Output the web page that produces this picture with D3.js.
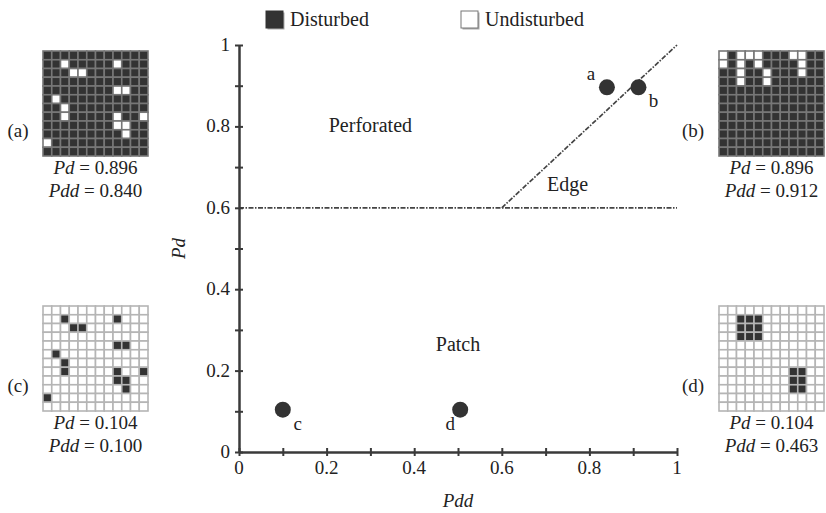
<!DOCTYPE html>
<html>
<head>
<meta charset="utf-8">
<script src="https://cdnjs.cloudflare.com/ajax/libs/d3/7.8.5/d3.min.js"></script>
<style>
  body { margin: 0; background: #fff; }
  svg { font-family: "Liberation Serif", "DejaVu Serif", serif; }
</style>
</head>
<body>
<script>
// chart values
var tickValues = [0, 0.2, 0.4, 0.6, 0.8, 1];
var pointNames = ['a', 'b', 'c', 'd'];
var pointPdd = [0.840, 0.912, 0.100, 0.505];
var pointPd = [0.896, 0.896, 0.104, 0.104];

var regionNames = ['Perforated', 'Edge', 'Patch'];
var regionPdd = [0.30, 0.75, 0.50];
var regionPd = [0.80, 0.655, 0.263];

// boundaries: Pd = 0.6 line and Pd = Pdd diagonal
var boundaryH = [[0, 0.6], [1, 0.6]];
var boundaryD = [[0.6, 0.6], [1, 1]];

// 12 x 12 example maps, cells given as [row, col]
var gridSize = 12;
var spotsAC = [[1,2],[2,3],[2,4],[1,8],[4,8],[4,9],[5,1],[6,2],[7,2],[7,8],[8,8],[8,9],[9,9],[7,11],[10,0]];
var holesB = [[0,0],[1,0],[0,2],[0,3],[1,2],[2,2],[0,4],[1,4],[3,2],[0,8],[0,9],[1,9],[2,9],[2,5],[3,5]];
var spotsD = [[1,2],[1,3],[1,4],[2,2],[2,3],[2,4],[3,2],[3,3],[3,4],[7,8],[7,9],[8,8],[8,9],[9,8],[9,9]];

var panelLabels = ['(a)', '(b)', '(c)', '(d)'];
var panelPd = ['0.896', '0.896', '0.104', '0.104'];
var panelPdd = ['0.840', '0.912', '0.100', '0.463'];

//setup
var W = 826, H = 513;
var margin = {top: 45, left: 239, right: 149, bottom: 61};
var dark = '#333333';

var svg = d3.select('body').append('svg')
    .attr('width', W)
    .attr('height', H);

var x = d3.scaleLinear().domain([0, 1]).range([margin.left, W - margin.right]);
var y = d3.scaleLinear().domain([0, 1]).range([H - margin.bottom, margin.top]);

// boundary lines
var line = d3.line().x(function(d) {return x(d[0])}).y(function(d) {return y(d[1])});
[boundaryH, boundaryD].forEach(function(b) {
    svg.append('path')
        .attr('d', line(b))
        .attr('fill', 'none')
        .attr('stroke', '#444')
        .attr('stroke-width', 1.7)
        .attr('stroke-dasharray', '5,1.5,1.5,1.5');
});

// axes
var xAxis = d3.axisBottom(x).tickValues(d3.range(0, 1.01, 0.1)).tickSize(0).tickFormat('');
var yAxis = d3.axisLeft(y).tickValues(d3.range(0, 1.01, 0.1)).tickSize(0).tickFormat('');

var gx = svg.append('g').attr('transform', 'translate(0,' + y(0) + ')').call(xAxis);
var gy = svg.append('g').attr('transform', 'translate(' + x(0) + ',0)').call(yAxis);
[gx, gy].forEach(function(g) {
    g.select('.domain').attr('stroke', '#3a3a3a').attr('stroke-width', 2.5);
});
gx.selectAll('.tick line').attr('y1', -4).attr('y2', 4).attr('stroke', '#3a3a3a').attr('stroke-width', 2);
gy.selectAll('.tick line').attr('x1', -4).attr('x2', 4).attr('stroke', '#3a3a3a').attr('stroke-width', 2);

// tick labels
var fmt = function(v) {return v === 0 || v === 1 ? String(v) : v.toFixed(1)};
svg.append('g').selectAll('text')
    .data(tickValues).enter().append('text')
    .attr('x', function(d) {return x(d)})
    .attr('y', y(0) + 22)
    .attr('text-anchor', 'middle')
    .attr('font-size', 19)
    .attr('fill', '#222')
    .text(fmt);
svg.append('g').selectAll('text')
    .data(tickValues).enter().append('text')
    .attr('x', x(0) - 9)
    .attr('y', function(d) {return y(d) + 6})
    .attr('text-anchor', 'end')
    .attr('font-size', 19)
    .attr('fill', '#222')
    .text(fmt);

// axis titles
svg.append('text')
    .attr('x', (x(0) + x(1)) / 2)
    .attr('y', H - 6)
    .attr('text-anchor', 'middle')
    .attr('font-size', 19)
    .attr('font-style', 'italic')
    .attr('fill', '#222')
    .text('Pdd');
svg.append('text')
    .attr('transform', 'translate(' + (x(0) - 54) + ',' + y(0.5) + ') rotate(-90)')
    .attr('text-anchor', 'middle')
    .attr('font-size', 19)
    .attr('font-style', 'italic')
    .attr('fill', '#222')
    .text('Pd');

// region labels
svg.append('g').selectAll('text')
    .data(regionNames).enter().append('text')
    .attr('x', function(d, i) {return x(regionPdd[i])})
    .attr('y', function(d, i) {return y(regionPd[i]) + 6})
    .attr('text-anchor', 'middle')
    .attr('font-size', 20)
    .attr('fill', '#222')
    .text(function(d) {return d});

// points
var pts = pointNames.map(function(n, i) {return {name: n, pdd: pointPdd[i], pd: pointPd[i]}});
var labelDx = {a: -16, b: 15, c: 15, d: -10};
var labelDy = {a: -7, b: 20, c: 20, d: 20};
svg.append('g').selectAll('circle')
    .data(pts).enter().append('circle')
    .attr('cx', function(d) {return x(d.pdd)})
    .attr('cy', function(d) {return y(d.pd)})
    .attr('r', 8)
    .attr('fill', dark);
svg.append('g').selectAll('text')
    .data(pts).enter().append('text')
    .attr('x', function(d) {return x(d.pdd) + labelDx[d.name]})
    .attr('y', function(d) {return y(d.pd) + labelDy[d.name]})
    .attr('text-anchor', 'middle')
    .attr('font-size', 19)
    .attr('fill', '#222')
    .text(function(d) {return d.name});

// legend
var legend = [{label: 'Disturbed', fill: dark, x: 266}, {label: 'Undisturbed', fill: '#fff', x: 461}];
var lg = svg.append('g').selectAll('g').data(legend).enter().append('g')
    .attr('transform', function(d) {return 'translate(' + d.x + ',11)'});
lg.append('rect')
    .attr('x', 1.5).attr('y', 1.5).attr('width', 17).attr('height', 17)
    .attr('fill', '#aaa');
lg.append('rect')
    .attr('width', 17).attr('height', 17)
    .attr('fill', function(d) {return d.fill})
    .attr('stroke', function(d) {return d.fill === '#fff' ? '#777' : dark})
    .attr('stroke-width', 1);
lg.append('text')
    .attr('x', 24).attr('y', 15)
    .attr('font-size', 20)
    .attr('fill', '#222')
    .text(function(d) {return d.label});

// example maps
function cellSet(list) {
    var s = {};
    list.forEach(function(c) {s[c[0] + '_' + c[1]] = true});
    return s;
}
var maps = [
    {x0: 43, y0: 51, set: cellSet(spotsAC), invert: true},
    {x0: 719, y0: 51, set: cellSet(holesB), invert: true},
    {x0: 43, y0: 306, set: cellSet(spotsAC), invert: false},
    {x0: 719, y0: 306, set: cellSet(spotsD), invert: false}
];
var gridSide = 105;
var cells = d3.range(gridSize * gridSize).map(function(k) {return {r: Math.floor(k / gridSize), c: k % gridSize}});

maps.forEach(function(m, i) {
    var band = d3.scaleBand().domain(d3.range(gridSize)).range([0, gridSide]);
    var g = svg.append('g').attr('transform', 'translate(' + m.x0 + ',' + m.y0 + ')');
    g.selectAll('rect')
        .data(cells).enter().append('rect')
        .attr('x', function(d) {return band(d.c)})
        .attr('y', function(d) {return band(d.r)})
        .attr('width', band.bandwidth())
        .attr('height', band.bandwidth())
        .attr('fill', function(d) {
            var hit = m.set[d.r + '_' + d.c] === true;
            return (hit !== m.invert) ? dark : '#fff';
        })
        .attr('stroke', m.invert ? '#777' : '#b5b5b5')
        .attr('stroke-width', 1.6);

    var cx = m.x0 + gridSide / 2;
    var labX = i % 2 === 0 ? 18 : 693;
    svg.append('text')
        .attr('x', labX).attr('y', m.y0 + 86)
        .attr('text-anchor', 'middle')
        .attr('font-size', 19)
        .attr('fill', '#222')
        .text(panelLabels[i]);

    var t1 = svg.append('text')
        .attr('x', cx).attr('y', m.y0 + gridSide + 18)
        .attr('text-anchor', 'middle')
        .attr('font-size', 19)
        .attr('fill', '#222');
    t1.append('tspan').attr('font-style', 'italic').text('Pd');
    t1.append('tspan').text(' = ' + panelPd[i]);

    var t2 = svg.append('text')
        .attr('x', cx).attr('y', m.y0 + gridSide + 41)
        .attr('text-anchor', 'middle')
        .attr('font-size', 19)
        .attr('fill', '#222');
    t2.append('tspan').attr('font-style', 'italic').text('Pdd');
    t2.append('tspan').text(' = ' + panelPdd[i]);
});
</script>
</body>
</html>
